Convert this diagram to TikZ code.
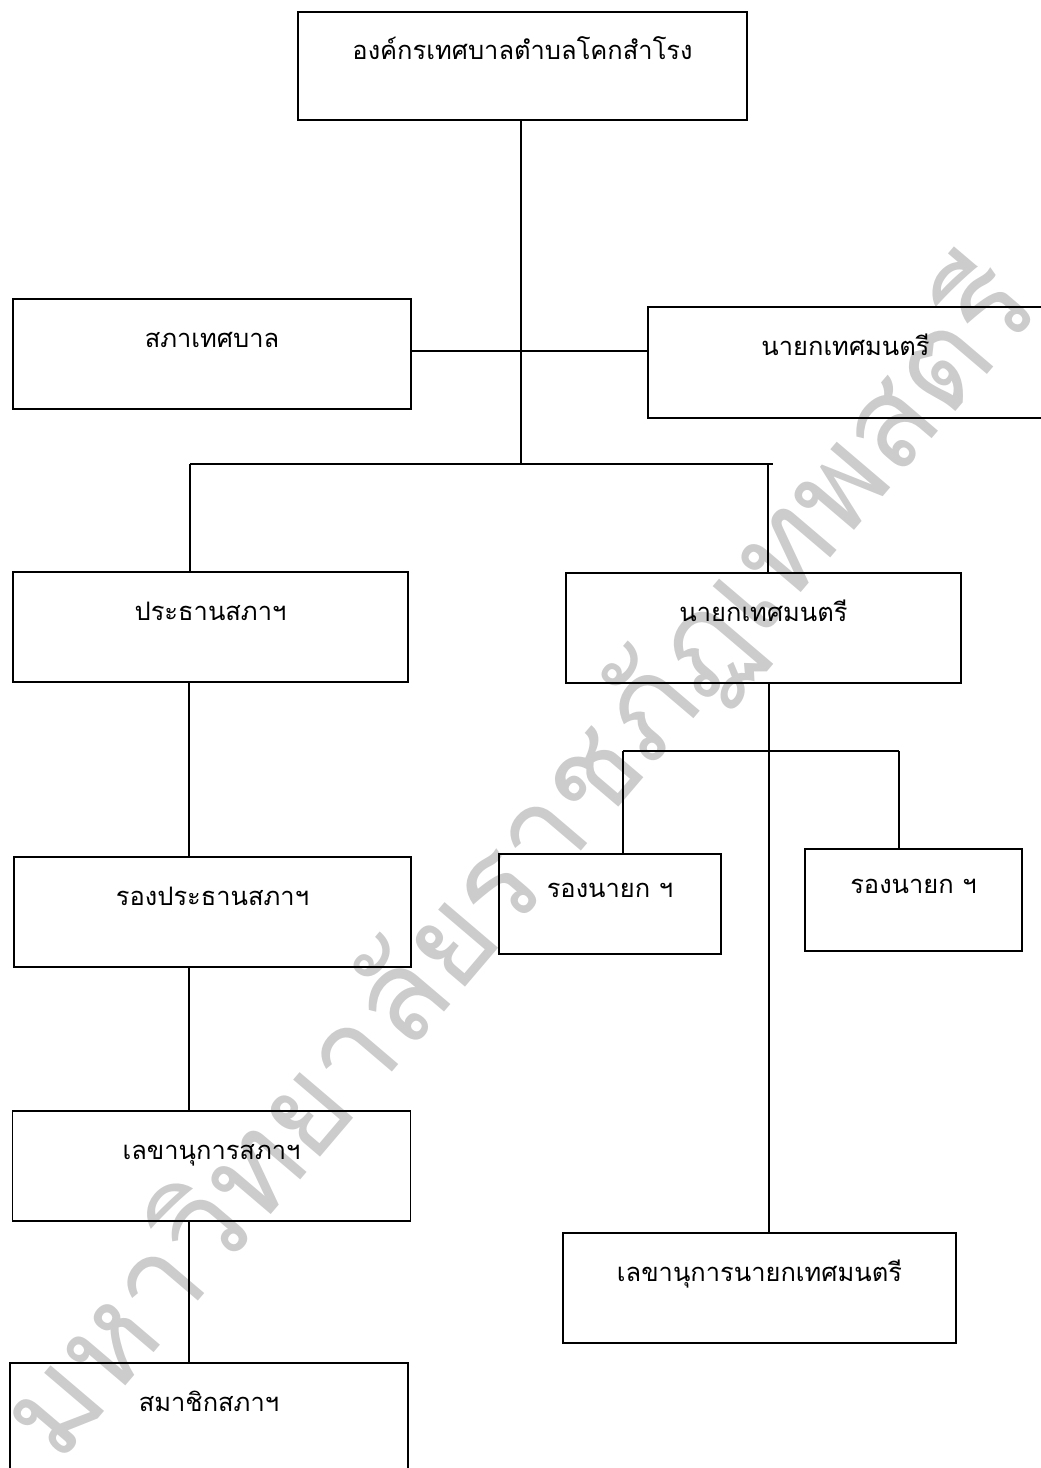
\documentclass[tikz,border=0pt]{standalone}
\usepackage{fontspec}
\newfontfamily\thaifont[Script=Thai]{Loma}
\tikzset{
  orgbox/.style={rectangle, draw, black, line width=1pt, minimum width=7.96cm, minimum height=2.2cm,
    text height=0.5cm, text depth=0.78cm, inner sep=0pt, font=\thaifont\fontsize{14.5}{18}\selectfont},
  wmtext/.style={text=black!20, font=\thaifont\fontsize{72}{72}\selectfont}
}
\begin{document}
\begin{tikzpicture}[x=0.02cm, y=-0.02cm, line width=1pt]
    \useasboundingbox (0,0) rectangle (1041,1468);
    \node[wmtext, rotate=49.6] (wmark) at (520,860) {มหาวิทยาลัยราชภัฏเทพสตรี};

    \draw (522.5,66) node[orgbox, minimum width=8.98cm, minimum height=2.16cm](org){องค์กรเทศบาลตำบลโคกสำโรง}
       (212,354) node[orgbox](sapha){สภาเทศบาล}
       (845.5,362.5) node[orgbox, minimum width=7.9cm, minimum height=2.22cm](mayor){นายกเทศมนตรี}
       (210.5,627) node[orgbox, minimum width=7.9cm](chair){ประธานสภาฯ}
       (763.5,628) node[orgbox, minimum width=7.9cm](mayorb){นายกเทศมนตรี}
       (212.5,912) node[orgbox, minimum width=7.94cm](vicechair){รองประธานสภาฯ}
       (610,904) node[orgbox, minimum width=4.44cm, minimum height=2cm](vicea){รองนายก ฯ}
       (913.5,900) node[orgbox, minimum width=4.34cm, minimum height=2.04cm](viceb){รองนายก ฯ}
       (211.5,1166) node[orgbox](clerk){เลขานุการสภาฯ}
       (759.5,1288) node[orgbox, minimum width=7.86cm](mayorsec){เลขานุการนายกเทศมนตรี}
       (209,1418) node[orgbox](member){สมาชิกสภาฯ};

    \coordinate (hub) at (521,464);
    \coordinate (barL) at (190,464);
    \coordinate (barR) at (773,464);
    \coordinate (dropR) at (768,464);
    \coordinate (link) at (521,351);
    \coordinate (spine) at (189,0);
    \coordinate (rspine) at (769,0);
    \coordinate (subL) at (623,751);
    \coordinate (subR) at (899,751);

    \draw (org.south -| hub) -- (hub);
    \draw (link -| sapha.east) -- (link -| mayor.west);
    \draw (barL) -- (barR);
    \draw (barL) -- (barL |- chair.north);
    \draw (dropR) -- (dropR |- mayorb.north);
    \draw (chair.south -| spine) -- (vicechair.north -| spine);
    \draw (vicechair.south -| spine) -- (clerk.north -| spine);
    \draw (clerk.south -| spine) -- (member.north -| spine);
    \draw (mayorb.south -| rspine) -- (mayorsec.north -| rspine);
    \draw (subL) -- (subR);
    \draw (subL) -- (subL |- vicea.north);
    \draw (subR) -- (subR |- viceb.north);
\end{tikzpicture}
\end{document}
